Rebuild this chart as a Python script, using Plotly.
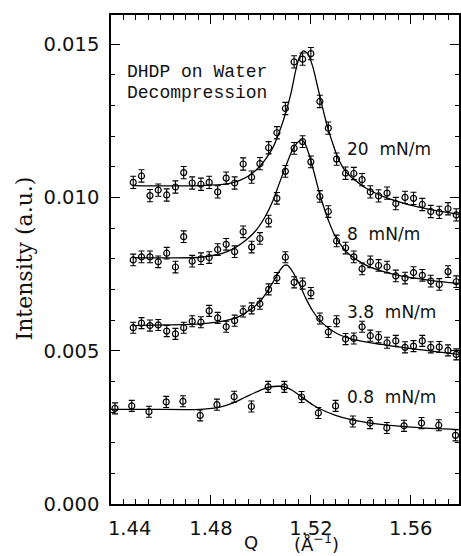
import plotly.graph_objects as go

# ---------------- data ----------------
q_fine = [1.4489, 1.4522, 1.4556, 1.4589, 1.4623, 1.4658, 1.4691, 1.4725, 1.4760, 1.4793,
          1.4827, 1.4861, 1.4895, 1.4929, 1.4963, 1.4996, 1.5031, 1.5064, 1.5098, 1.5133,
          1.5167, 1.5200, 1.5236, 1.5270, 1.5303, 1.5339, 1.5372, 1.5405, 1.5438, 1.5471,
          1.5505, 1.5540, 1.5577, 1.5611, 1.5646, 1.5680, 1.5714, 1.5749, 1.5782]

i_20 = [0.01049, 0.01070, 0.01006, 0.01024, 0.01008, 0.01034, 0.01081, 0.01047, 0.01043, 0.01049,
        0.01018, 0.01063, 0.01047, 0.01109, 0.01066, 0.01110, 0.01162, 0.01211, 0.01290, 0.01442,
        0.01451, 0.01469, 0.01313, 0.01226, 0.01125, 0.01079, 0.01078, 0.01058, 0.01018, 0.01005,
        0.01014, 0.00980, 0.01000, 0.00997, 0.00977, 0.00954, 0.00951, 0.00963, 0.00943]

i_8 = [0.00796, 0.00806, 0.00806, 0.00790, 0.00818, 0.00773, 0.00872, 0.00792, 0.00800, 0.00804,
       0.00830, 0.00847, 0.00823, 0.00888, 0.00838, 0.00866, 0.00923, 0.00997, 0.01085, 0.01160,
       0.01182, 0.01116, 0.01003, 0.00954, 0.00858, 0.00835, 0.00806, 0.00767, 0.00790, 0.00778,
       0.00773, 0.00744, 0.00737, 0.00755, 0.00746, 0.00727, 0.00716, 0.00758, 0.00725]

i_38 = [0.00575, 0.00590, 0.00582, 0.00584, 0.00564, 0.00555, 0.00575, 0.00596, 0.00593, 0.00630,
        0.00607, 0.00578, 0.00598, 0.00628, 0.00638, 0.00653, 0.00700, 0.00737, 0.00805, 0.00723,
        0.00719, 0.00688, 0.00605, 0.00561, 0.00596, 0.00538, 0.00540, 0.00578, 0.00549, 0.00544,
        0.00526, 0.00532, 0.00511, 0.00515, 0.00532, 0.00511, 0.00512, 0.00501, 0.00488]

q_coarse = [1.4416, 1.4483, 1.4552, 1.4621, 1.4688, 1.4757, 1.4824, 1.4893, 1.4962, 1.5029,
            1.5094, 1.5163, 1.5230, 1.5299, 1.5368, 1.5437, 1.5504, 1.5573, 1.5643, 1.5712, 1.5779]
i_08 = [0.00312, 0.00320, 0.00301, 0.00333, 0.00335, 0.00289, 0.00324, 0.00350, 0.00318, 0.00382,
        0.00382, 0.00349, 0.00297, 0.00320, 0.00269, 0.00264, 0.00248, 0.00255, 0.00264, 0.00257, 0.00224]

err_20 = 0.00020
err_8 = 0.00019
err_38 = 0.00018
err_08 = 0.00018

# fitted curves
fit20_q = [1.4486, 1.4625, 1.4757, 1.4863, 1.4916, 1.4955, 1.4995, 1.5021, 1.5048, 1.5074, 1.5101,
           1.5121, 1.5140, 1.5154, 1.5170, 1.5187, 1.5207, 1.5226, 1.5246, 1.5266, 1.5286, 1.5312,
           1.5339, 1.5365, 1.5392, 1.5418, 1.5458, 1.5498, 1.5550, 1.5603, 1.5656, 1.5709, 1.5792]
fit20_i = [0.010386, 0.010374, 0.010386, 0.010443, 0.010559, 0.010721, 0.011010, 0.011276, 0.011623,
           0.012143, 0.012803, 0.013416, 0.014167, 0.014572, 0.014780, 0.014688, 0.014283, 0.013647,
           0.012953, 0.012317, 0.011796, 0.011218, 0.010848, 0.010640, 0.010466, 0.010316, 0.010143,
           0.010004, 0.009865, 0.009738, 0.009645, 0.009564, 0.009449]

fit8_q = [1.4486, 1.4625, 1.4757, 1.4823, 1.4863, 1.4902, 1.4942, 1.4982, 1.5021, 1.5048, 1.5074,
          1.5101, 1.5127, 1.5147, 1.5160, 1.5174, 1.5193, 1.5213, 1.5233, 1.5253, 1.5273, 1.5299,
          1.5326, 1.5352, 1.5392, 1.5431, 1.5484, 1.5550, 1.5617, 1.5683, 1.5792]
fit8_i = [0.008038, 0.008026, 0.008049, 0.008130, 0.008223, 0.008385, 0.008616, 0.008940, 0.009426,
          0.009888, 0.010466, 0.011045, 0.011565, 0.011796, 0.011877, 0.011796, 0.011392, 0.010813,
          0.010177, 0.009657, 0.009194, 0.008709, 0.008385, 0.008153, 0.007922, 0.007749, 0.007598,
          0.007460, 0.007367, 0.007286, 0.007194]

fit38_q = [1.4486, 1.4625, 1.4757, 1.4823, 1.4876, 1.4916, 1.4955, 1.4995, 1.5021, 1.5048, 1.5074,
           1.5094, 1.5107, 1.5127, 1.5154, 1.5180, 1.5207, 1.5233, 1.5273, 1.5312, 1.5365, 1.5418,
           1.5484, 1.5550, 1.5617, 1.5683, 1.5792]
fit38_i = [0.005817, 0.005840, 0.005875, 0.005933, 0.006014, 0.006130, 0.006326, 0.006592, 0.006881,
           0.007228, 0.007598, 0.007783, 0.007783, 0.007575, 0.007170, 0.006708, 0.006303, 0.006014,
           0.005725, 0.005528, 0.005378, 0.005285, 0.005204, 0.005123, 0.005054, 0.004985, 0.004881]

fit08_q = [1.4400, 1.4559, 1.4757, 1.4836, 1.4889, 1.4942, 1.4995, 1.5035, 1.5074, 1.5101, 1.5127,
           1.5167, 1.5207, 1.5246, 1.5299, 1.5365, 1.5431, 1.5498, 1.5577, 1.5656, 1.5736, 1.5792]
fit08_i = [0.003088, 0.003088, 0.003088, 0.003157, 0.003296, 0.003504, 0.003701, 0.003816, 0.003840,
           0.003805, 0.003701, 0.003470, 0.003238, 0.003065, 0.002891, 0.002741, 0.002648, 0.002579,
           0.002521, 0.002475, 0.002452, 0.002429]

series_labels = ["20\u00a0 mN/m", "8\u00a0 mN/m", "3.8\u00a0 mN/m", "0.8\u00a0 mN/m"]
label_q = [1.5335, 1.5335, 1.5335, 1.5335]
label_i = [0.01158, 0.00880, 0.00626, 0.00349]

x_tickvals = [1.44, 1.48, 1.52, 1.56]
x_ticktext = ["\u00a0" * 6 + "1.44", "1.48", "1.52", "1.56"]
y_tickvals = [0.0, 0.005, 0.010, 0.015]
y_ticktext = ["0.000", "0.005", "0.010", "0.015"]

W, H = 461, 556

# ---------------- figure ----------------
fig = go.Figure()

def add_series(q, i, err, fq, fi):
    fig.add_trace(go.Scatter(
        x=fq, y=fi, mode="lines", line=dict(color="black", width=1.3, shape="spline", smoothing=0.8),
        hoverinfo="skip", showlegend=False))
    fig.add_trace(go.Scatter(
        x=q, y=i, mode="markers",
        marker=dict(symbol="circle-open", size=6, color="black", line=dict(width=1.2, color="black")),
        error_y=dict(type="constant", value=err, color="black", thickness=1.1, width=3),
        showlegend=False))

add_series(q_fine, i_20, err_20, fit20_q, fit20_i)
add_series(q_fine, i_8, err_8, fit8_q, fit8_i)
add_series(q_fine, i_38, err_38, fit38_q, fit38_i)
add_series(q_coarse, i_08, err_08, fit08_q, fit08_i)

sans = "DejaVu Sans"
for txt, xq, yi in zip(series_labels, label_q, label_i):
    fig.add_annotation(x=xq, y=yi, text=txt, showarrow=False, xanchor="left", yanchor="middle",
                       font=dict(family=sans, size=17, color="#111"))

fig.add_annotation(x=1.4456, y=0.01409, text="DHDP on Water", showarrow=False, xanchor="left",
                   yanchor="middle", font=dict(family="Liberation Mono", size=18, color="#111"))
fig.add_annotation(x=1.4456, y=0.01340, text="Decompression", showarrow=False, xanchor="left",
                   yanchor="middle", font=dict(family="Liberation Mono", size=18, color="#111"))

# axis titles
fig.add_annotation(xref="paper", yref="paper", x=-0.2486, y=0.503, text="Intensity (a.u.)",
                   textangle=-90, showarrow=False, xanchor="center", yanchor="middle",
                   font=dict(family="DejaVu Serif", size=22, color="#111"))
fig.add_annotation(xref="paper", yref="paper", x=0.403, y=-0.079, text="Q",
                   showarrow=False, xanchor="center", yanchor="middle",
                   font=dict(family=sans, size=18, color="#111"))
fig.add_annotation(xref="paper", yref="paper", x=0.5917, y=-0.079, text="(Å<sup>\u22121</sup>)",
                   showarrow=False, xanchor="center", yanchor="middle",
                   font=dict(family=sans, size=18, color="#111"))

axis_common = dict(showline=True, linecolor="black", linewidth=1.5, mirror="ticks",
                   ticks="inside", tickcolor="black", tickwidth=1.2, showgrid=False,
                   zeroline=False, tickfont=dict(family=sans, size=19.5, color="#111"))

fig.update_xaxes(range=[1.44, 1.5793], tickvals=x_tickvals, ticktext=x_ticktext, ticklen=9,
                 ticklabelstandoff=6,
                 minor=dict(ticks="inside", ticklen=5, dtick=0.005, tick0=1.44, tickcolor="black",
                            tickwidth=1, showgrid=False),
                 **axis_common)
fig.update_yaxes(range=[0, 0.01595], tickvals=y_tickvals, ticktext=y_ticktext, ticklen=9,
                 ticklabelstandoff=6,
                 minor=dict(ticks="inside", ticklen=4, dtick=0.001, tick0=0, tickcolor="black",
                            tickwidth=1, showgrid=False),
                 **axis_common)

fig.update_layout(width=W, height=H, margin=dict(l=111, r=0, t=15, b=52),
                  plot_bgcolor="white", paper_bgcolor="white", showlegend=False)

post = ("document.body.style.margin='0';document.body.style.overflow='hidden';"
        "var gd=document.getElementById('{plot_id}');"
        "gd.style.width='%dpx';gd.style.height='%dpx';"
        "Plotly.relayout(gd,{width:%d,height:%d});" % (W, H, W, H))

fig.write_html("out.html", post_script=post, config={"displayModeBar": False})
